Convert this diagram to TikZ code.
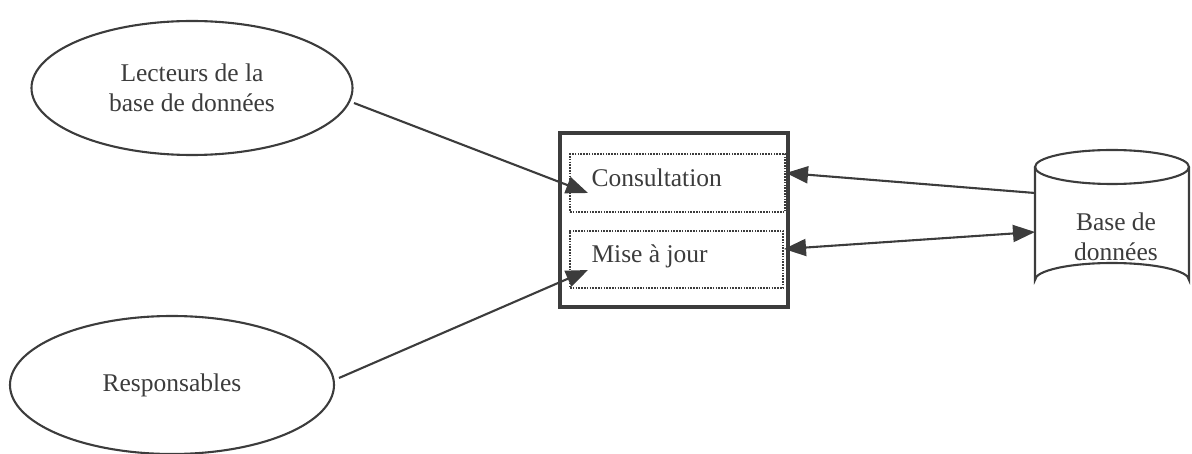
\documentclass[tikz,border=0pt]{standalone}
\usepackage{fontspec}
\setmainfont{Liberation Serif}
\usetikzlibrary{shapes.geometric,arrows.meta}
\definecolor{ink}{HTML}{3C3C3C}
\begin{document}
\begin{tikzpicture}[x=1pt,y=-1pt,
  every node/.style={text=ink,font=\fontsize{25.5}{30}\selectfont},
  actor/.style={draw=ink,line width=2.1pt,ellipse,inner sep=0pt},
  inbox/.style={draw=ink,line width=2pt,dash pattern=on 1.6pt off 1.2pt,inner sep=0pt},
  tip/.style={Triangle[length=22pt,width=17pt]},
  link/.style={draw=ink,line width=2.1pt,-{Triangle[length=22pt,width=17pt]}},
  dlink/.style={draw=ink,line width=2.1pt,{Triangle[length=22pt,width=17pt]}-{Triangle[length=22pt,width=17pt]}}]
\useasboundingbox (0,0) rectangle (1192,454);
% actors
\node[actor,minimum width=321pt,minimum height=134pt,align=center] (lect) at (192,88) {Lecteurs de la\\base de données};
\node[actor,minimum width=324pt,minimum height=138pt] (resp) at (172,385) {Responsables};
% main box
\node[draw=ink,line width=3.8pt,minimum width=228pt,minimum height=174pt,inner sep=0pt] (sys) at (674,220) {};
\node[inbox,minimum width=215pt,minimum height=58pt] (cons) at (677.5,183) {};
\node[inbox,minimum width=213pt,minimum height=57pt] (maj) at (676.5,259.5) {};
\node[anchor=base west] (tcons) at (588,187) {Consultation};
\node[anchor=base west] (tmaj) at (588,263) {Mise à jour};
% cylinder
\draw[ink,line width=2.1pt,fill=white] (1035,167) -- (1035,280) arc[start angle=180,end angle=360,x radius=77,y radius=17] -- (1189,167);
\draw[ink,line width=2.1pt] (1112,167) ellipse[x radius=77,y radius=17];
\node[align=center] (bd) at (1116,237) {Base de\\données};
\coordinate (bdA) at (1035,193);
\coordinate (bdB) at (1035,232);
% connectors
\coordinate (lectOut) at (354,103);
\coordinate (respOut) at (339,378);
\path[link] (lectOut) -- (tcons.base west |- 0,193);
\path[link] (respOut) -- (tmaj.base west |- 0,270);
\path[link] (bdA) -- (cons.east |- 0,173);
\path[dlink] (maj.east |- 0,249) -- (bdB);
\end{tikzpicture}
\end{document}
